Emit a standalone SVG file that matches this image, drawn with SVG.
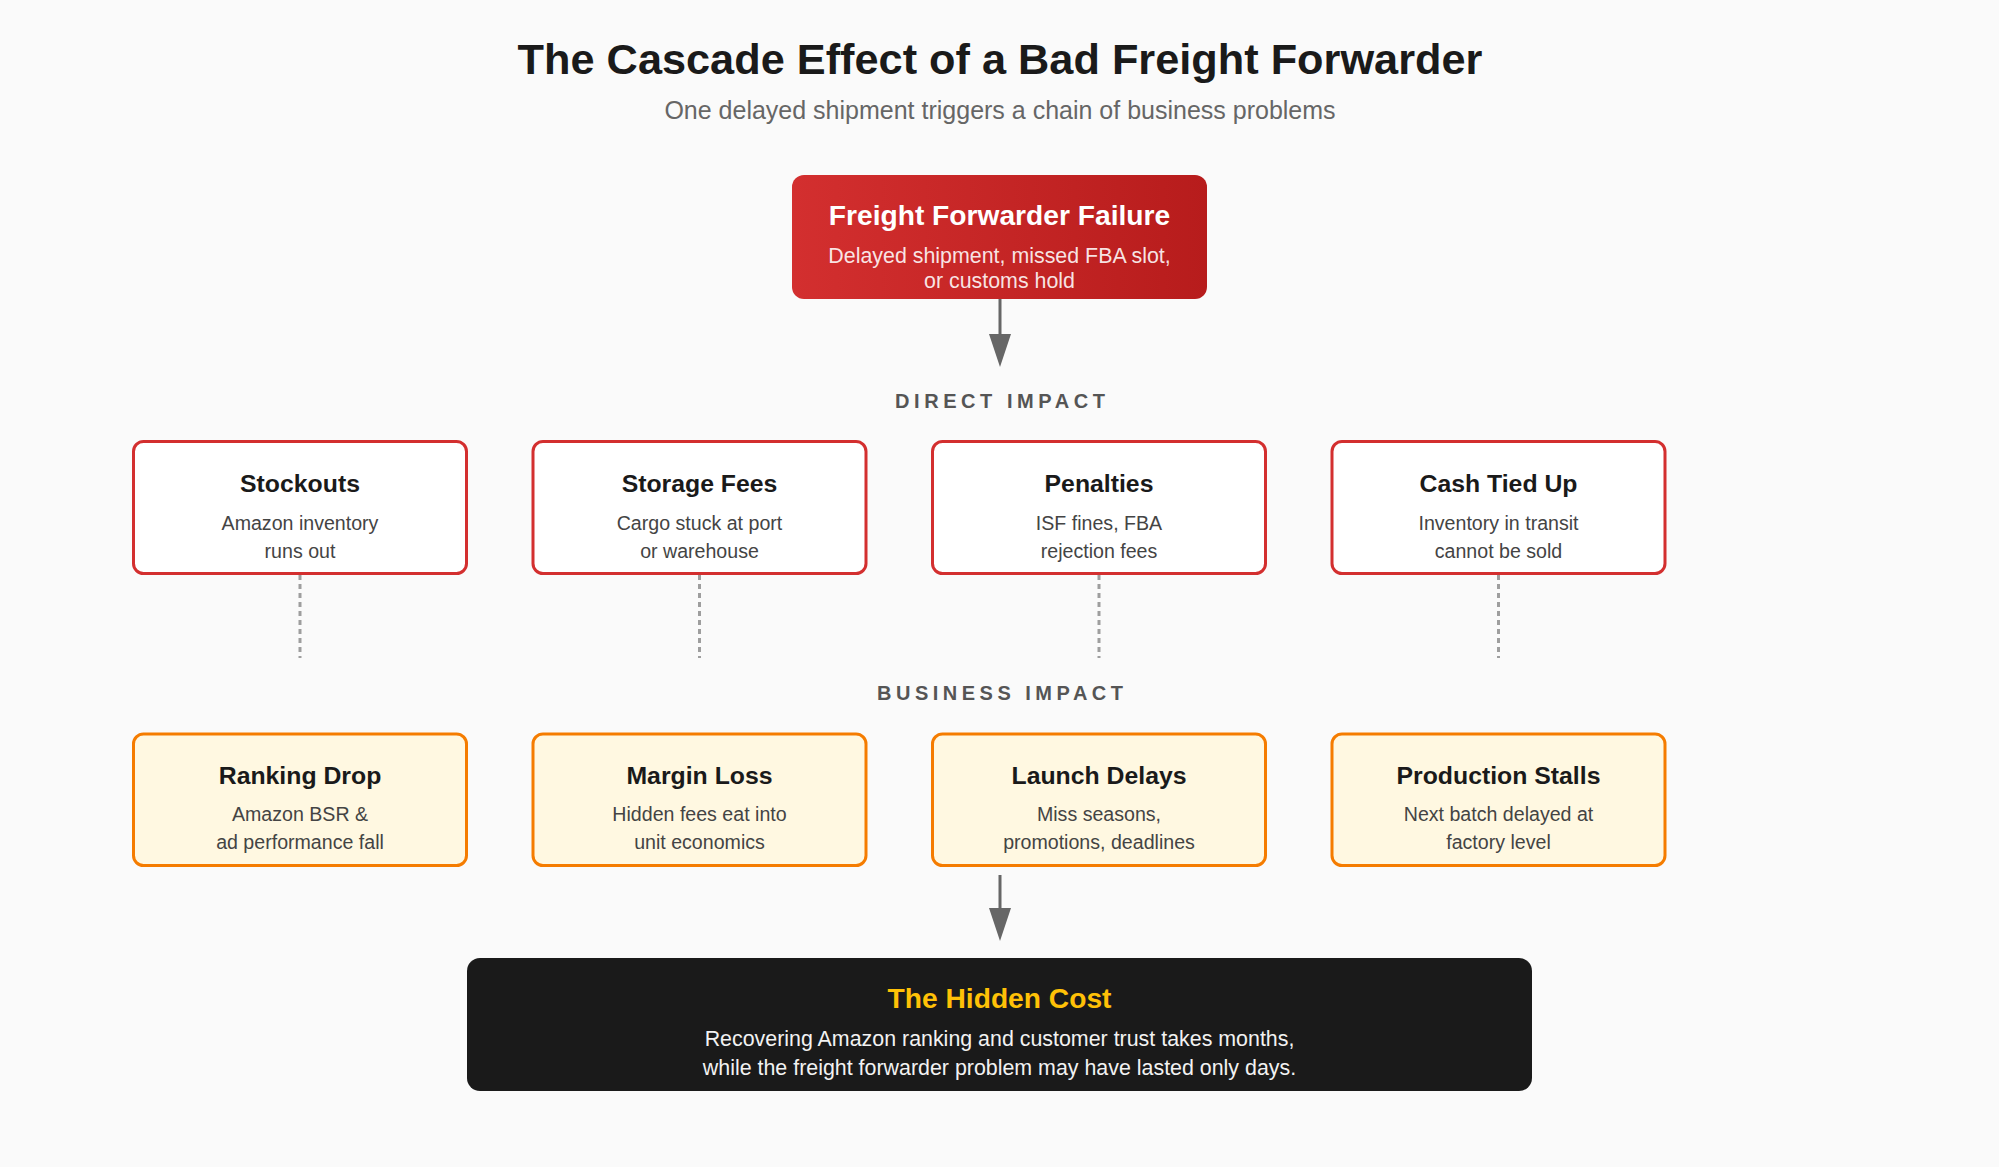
<svg xmlns="http://www.w3.org/2000/svg" width="1999" height="1167" viewBox="0 0 1999 1167">
  <defs>
    <linearGradient id="redGrad" x1="0" y1="0" x2="1" y2="0">
      <stop offset="0" stop-color="#d32f2f"/>
      <stop offset="1" stop-color="#b71c1c"/>
    </linearGradient>
    <marker id="arrow" markerUnits="userSpaceOnUse" markerWidth="33" markerHeight="22" viewBox="0 0 33 22" refX="22" refY="11" orient="auto">
      <path d="M0,0 L33,11 L0,22 Z" fill="#666666"/>
    </marker>
    <style>
      text { font-family: "Liberation Sans", Arial, Helvetica, sans-serif; text-anchor: middle; }
      .title { font-size: 43.3px; font-weight: bold; fill: #1a1a1a; }
      .subtitle { font-size: 25px; fill: #666666; }
      .section { font-size: 20px; font-weight: bold; fill: #555555; }
      .direct { fill: #ffffff; stroke: #d32f2f; stroke-width: 3; }
      .business { fill: #fff8e1; stroke: #f57c00; stroke-width: 3; }
      .ntitle { font-size: 24.8px; font-weight: bold; fill: #1a1a1a; }
      .ndesc { font-size: 19.6px; fill: #444444; }
      .flow { stroke: #666666; stroke-width: 3; fill: none; }
      .dotted { stroke: #9e9e9e; stroke-width: 3; stroke-dasharray: 5 4; fill: none; }
    </style>
  </defs>

  <rect x="0" y="0" width="1999" height="1167" fill="#fafafa"/>

  <text class="title" x="1000" y="74">The Cascade Effect of a Bad Freight Forwarder</text>
  <text class="subtitle" x="1000" y="119">One delayed shipment triggers a chain of business problems</text>

  <g id="failure">
    <rect x="792" y="175" width="415" height="124" rx="12" fill="url(#redGrad)"/>
    <text x="999.5" y="225" font-size="28.2" font-weight="bold" fill="#ffffff">Freight Forwarder Failure</text>
    <text x="999.5" y="263" font-size="21.4" fill="#ffffff" fill-opacity="0.88">Delayed shipment, missed FBA slot,</text>
    <text x="999.5" y="288" font-size="21.4" fill="#ffffff" fill-opacity="0.88">or customs hold</text>
  </g>

  <text id="label-direct" class="section" x="1000" y="408" textLength="210" lengthAdjust="spacing">DIRECT IMPACT</text>
  <text id="label-business" class="section" x="1000" y="700" textLength="246" lengthAdjust="spacing">BUSINESS IMPACT</text>

  <g id="stockouts">
    <rect class="direct" x="133.5" y="441.5" width="333" height="132" rx="10"/>
    <text class="ntitle" x="300" y="492">Stockouts</text>
    <text class="ndesc" x="300" y="530">Amazon inventory</text>
    <text class="ndesc" x="300" y="558">runs out</text>
  </g>
  <g id="storage-fees">
    <rect class="direct" x="533" y="441.5" width="333" height="132" rx="10"/>
    <text class="ntitle" x="699.5" y="492">Storage Fees</text>
    <text class="ndesc" x="699.5" y="530">Cargo stuck at port</text>
    <text class="ndesc" x="699.5" y="558">or warehouse</text>
  </g>
  <g id="penalties">
    <rect class="direct" x="932.5" y="441.5" width="333" height="132" rx="10"/>
    <text class="ntitle" x="1099" y="492">Penalties</text>
    <text class="ndesc" x="1099" y="530">ISF fines, FBA</text>
    <text class="ndesc" x="1099" y="558">rejection fees</text>
  </g>
  <g id="cash-tied-up">
    <rect class="direct" x="1332" y="441.5" width="333" height="132" rx="10"/>
    <text class="ntitle" x="1498.5" y="492">Cash Tied Up</text>
    <text class="ndesc" x="1498.5" y="530">Inventory in transit</text>
    <text class="ndesc" x="1498.5" y="558">cannot be sold</text>
  </g>

  <g id="ranking-drop">
    <rect class="business" x="133.5" y="734" width="333" height="131.5" rx="10"/>
    <text class="ntitle" x="300" y="784">Ranking Drop</text>
    <text class="ndesc" x="300" y="821">Amazon BSR &amp;</text>
    <text class="ndesc" x="300" y="849">ad performance fall</text>
  </g>
  <g id="margin-loss">
    <rect class="business" x="533" y="734" width="333" height="131.5" rx="10"/>
    <text class="ntitle" x="699.5" y="784">Margin Loss</text>
    <text class="ndesc" x="699.5" y="821">Hidden fees eat into</text>
    <text class="ndesc" x="699.5" y="849">unit economics</text>
  </g>
  <g id="launch-delays">
    <rect class="business" x="932.5" y="734" width="333" height="131.5" rx="10"/>
    <text class="ntitle" x="1099" y="784">Launch Delays</text>
    <text class="ndesc" x="1099" y="821">Miss seasons,</text>
    <text class="ndesc" x="1099" y="849">promotions, deadlines</text>
  </g>
  <g id="production-stalls">
    <rect class="business" x="1332" y="734" width="333" height="131.5" rx="10"/>
    <text class="ntitle" x="1498.5" y="784">Production Stalls</text>
    <text class="ndesc" x="1498.5" y="821">Next batch delayed at</text>
    <text class="ndesc" x="1498.5" y="849">factory level</text>
  </g>

  <g id="hidden-cost">
    <rect x="467" y="958" width="1065" height="133" rx="13" fill="#1a1a1a"/>
    <text x="999.5" y="1008" font-size="28.2" font-weight="bold" fill="#ffc107">The Hidden Cost</text>
    <text x="999.5" y="1046" font-size="21.4" fill="#f2f2f2">Recovering Amazon ranking and customer trust takes months,</text>
    <text x="999.5" y="1075" font-size="21.4" fill="#f2f2f2">while the freight forwarder problem may have lasted only days.</text>
  </g>

  <g id="connectors">
    <line class="flow" x1="1000" y1="299" x2="1000" y2="356" marker-end="url(#arrow)"/>
    <line class="flow" x1="1000" y1="875" x2="1000" y2="930" marker-end="url(#arrow)"/>
    <line class="dotted" x1="300" y1="575" x2="300" y2="658"/>
    <line class="dotted" x1="699.5" y1="575" x2="699.5" y2="658"/>
    <line class="dotted" x1="1099" y1="575" x2="1099" y2="658"/>
    <line class="dotted" x1="1498.5" y1="575" x2="1498.5" y2="658"/>
  </g>
</svg>
